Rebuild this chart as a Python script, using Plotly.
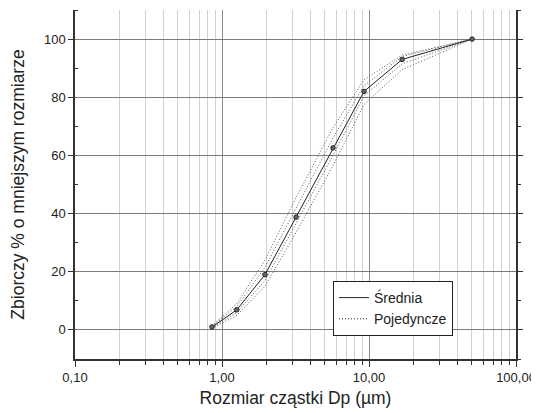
import plotly.graph_objects as go

sizes = [0.855, 1.26, 1.96, 3.19, 5.69, 9.25, 16.8, 50.3]
mean_pct = [1.0, 6.9, 19.0, 38.8, 62.6, 82.0, 93.0, 100.0]
ind_1 = [0.5, 5.0, 15.0, 33.5, 56.5, 77.5, 89.5, 100.0]
ind_2 = [0.8, 6.0, 17.0, 36.5, 60.0, 80.5, 91.5, 100.0]
ind_3 = [1.2, 8.0, 21.5, 42.0, 66.0, 84.0, 94.0, 100.0]
ind_4 = [1.5, 9.0, 24.0, 45.5, 69.5, 86.0, 94.5, 100.0]
individual = [ind_1, ind_2, ind_3, ind_4]

x_tickvals = [0.1, 1, 10, 100]
x_ticktext = ["0,10", "1,00", "10,00", "100,00"]
y_tickvals = [0, 20, 40, 60, 80, 100]

font = "Liberation Sans, Arial, sans-serif"
dotted = "1px,2px"
fig = go.Figure()

for ys in individual:
    fig.add_trace(go.Scatter(
        x=sizes, y=ys, mode="lines",
        line=dict(color="#555555", width=1, dash=dotted),
        showlegend=False, hoverinfo="skip",
    ))

fig.add_trace(go.Scatter(
    x=sizes, y=mean_pct, mode="lines+markers",
    line=dict(color="#222222", width=1),
    marker=dict(size=4.5, color="#666666", line=dict(color="#222222", width=1)),
    showlegend=False,
))

# legend-only entries (line samples without markers)
fig.add_trace(go.Scatter(x=[None], y=[None], mode="lines",
                         line=dict(color="#222222", width=1), name="Średnia"))
fig.add_trace(go.Scatter(x=[None], y=[None], mode="lines",
                         line=dict(color="#222222", width=1, dash=dotted), name="Pojedyncze"))

fig.update_xaxes(
    type="log", range=[-1, 2],
    tickvals=x_tickvals, ticktext=x_ticktext,
    showgrid=True, gridcolor="#8a8a8a", gridwidth=1,
    minor=dict(ticks="outside", ticklen=4, tickcolor="#333", showgrid=True,
               gridcolor="#d0d0d0", gridwidth=1, dtick="D1"),
    ticks="outside", ticklen=6, tickcolor="#333",
    showline=True, linecolor="#333", linewidth=1.5,
    zeroline=False, automargin=False,
    tickfont=dict(family=font, size=13, color="#222"),
    title=dict(text="Rozmiar cząstki Dp (µm)", font=dict(family=font, size=17.5, color="#222"), standoff=7),
)
fig.update_yaxes(
    range=[-10, 110], tickvals=y_tickvals,
    showgrid=True, gridcolor="#7a7a7a", gridwidth=1,
    minor=dict(ticks="inside", ticklen=3, tickcolor="#333", tickvals=[-10, 10, 30, 50, 70, 90, 110]),
    ticks="outside", ticklen=5, tickcolor="#333",
    showline=True, linecolor="#333", linewidth=1.5,
    zeroline=False, automargin=False,
    tickfont=dict(family=font, size=13, color="#222"),
    title=dict(text="Zbiorczy % o mniejszym rozmiarze", font=dict(family=font, size=17.5, color="#222"), standoff=18),
)

# right axis line with ticks
fig.add_trace(go.Scatter(x=[None], y=[None], yaxis="y2", showlegend=False))
fig.update_layout(
    yaxis2=dict(overlaying="y", side="right", range=[-10, 110], tickvals=y_tickvals,
                showticklabels=False, ticks="outside", ticklen=5, tickcolor="#333",
                showline=True, linecolor="#333", linewidth=2, showgrid=False, zeroline=False,
                automargin=False,
                minor=dict(ticks="outside", ticklen=3, tickcolor="#333", tickvals=[-10, 10, 30, 50, 70, 90, 110])),
)

fig.update_layout(
    width=531, height=405,
    margin=dict(l=67, r=23, t=2, b=54),
    paper_bgcolor="white", plot_bgcolor="white",
    showlegend=True,
    legend=dict(x=0.585, y=0.2235, xanchor="left", yanchor="top",
                bgcolor="white", bordercolor="#222", borderwidth=1,
                font=dict(family=font, size=14, color="#222"),
                tracegroupgap=0, itemwidth=30),
)

fig.write_html("out.html")
